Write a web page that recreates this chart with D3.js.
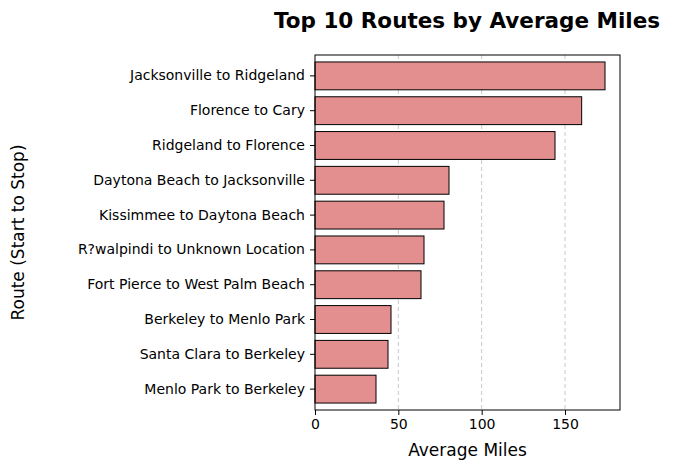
<!DOCTYPE html>
<html><head><meta charset="utf-8">
<script src="https://cdn.jsdelivr.net/npm/d3@7"></script>
<style>body{margin:0;background:#fff}text{font-family:"DejaVu Sans",sans-serif}</style>
</head><body><svg width="677" height="470"></svg>
<script>
var routes = ["Jacksonville to Ridgeland","Florence to Cary","Ridgeland to Florence","Daytona Beach to Jacksonville","Kissimmee to Daytona Beach","R?walpindi to Unknown Location","Fort Pierce to West Palm Beach","Berkeley to Menlo Park","Santa Clara to Berkeley","Menlo Park to Berkeley"];
var miles = [174, 160, 144, 80.4, 77.4, 65.4, 63.6, 45.6, 43.8, 36.6];
var ticks = [0, 50, 100, 150];

var svg = d3.select("svg");
var mLeft = 315, mRight = 620, mTop = 55, mBottom = 410;
var x = d3.scaleLinear().domain([0, 183]).range([mLeft, mRight]);
var y = d3.scaleBand().domain(routes).range([mTop, mBottom]).padding(0.2);

svg.append("g").selectAll("line").data(ticks.slice(1)).enter().append("line")
    .attr("x1", x).attr("x2", x).attr("y1", mTop).attr("y2", mBottom)
    .attr("stroke", "#c8c8c8").attr("stroke-dasharray", "4,3");

svg.append("g").selectAll("rect").data(routes).enter().append("rect")
    .attr("x", x(0)).attr("y", function(d){ return y(d); })
    .attr("width", function(d, i){ return x(miles[i]) - x(0); })
    .attr("height", y.bandwidth())
    .attr("fill", "#e48f8f").attr("stroke", "#000").attr("stroke-width", 1);

svg.append("rect").attr("x", mLeft).attr("y", mTop).attr("width", mRight-mLeft).attr("height", mBottom-mTop)
    .attr("fill", "none").attr("stroke", "#000");

var xa = svg.append("g").attr("transform", "translate(0," + mBottom + ")")
    .call(d3.axisBottom(x).tickValues(ticks).tickSize(5).tickPadding(4));
xa.select(".domain").remove();
xa.selectAll("text").attr("font-size", 14).attr("fill", "#000");

var ya = svg.append("g").attr("transform", "translate(" + mLeft + ",0)")
    .call(d3.axisLeft(y).tickSize(5).tickPadding(5));
ya.select(".domain").remove();
ya.selectAll("text").attr("font-size", 14).attr("fill", "#000");

svg.append("text").attr("x", (mLeft+mRight)/2).attr("y", 456).attr("text-anchor", "middle")
    .attr("font-size", 17).text("Average Miles");
svg.append("text").attr("transform", "translate(24," + (mTop+mBottom)/2 + ") rotate(-90)")
    .attr("text-anchor", "middle").attr("font-size", 17).text("Route (Start to Stop)");
svg.append("text").attr("x", 467).attr("y", 28).attr("text-anchor", "middle")
    .attr("font-size", 21.5).attr("font-weight", "bold").text("Top 10 Routes by Average Miles");
</script></body></html>
